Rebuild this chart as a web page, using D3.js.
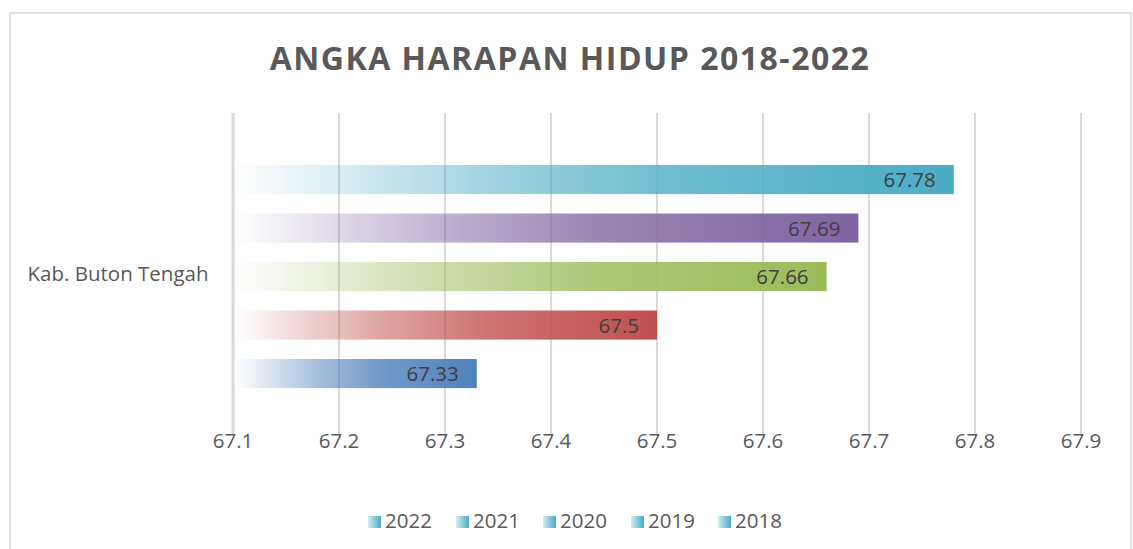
<!DOCTYPE html>
<html>
<head>
<meta charset="utf-8">
<script src="https://cdn.jsdelivr.net/npm/d3@7/dist/d3.min.js"></script>
<style>
html,body{margin:0;padding:0;background:#fff;}
svg text{font-family:"Open Sans","Noto Sans",sans-serif;}
</style>
</head>
<body>
<svg id="chart" width="1133" height="549"></svg>
<script>
const title = "ANGKA HARAPAN HIDUP 2018-2022";
const category = "Kab. Buton Tengah";
const years = ["2022", "2021", "2020", "2019", "2018"];
const values = [67.78, 67.69, 67.66, 67.5, 67.33];
const colors = ["#4BACC6", "#8064A2", "#9BBB59", "#C0504D", "#4F81BD"];
const ticks = [67.1, 67.2, 67.3, 67.4, 67.5, 67.6, 67.7, 67.8, 67.9];

const svg = d3.select("#chart");

// frame
svg.append("rect").attr("x", 10).attr("y", 13).attr("width", 1121).attr("height", 545)
  .attr("fill", "#fff").attr("stroke", "#d9d9d9").attr("stroke-width", 1.5);

// title
svg.append("text").attr("x", 570).attr("y", 70).attr("text-anchor", "middle")
  .attr("font-size", 32).attr("font-weight", "bold").attr("fill", "#595959")
  .attr("letter-spacing", 1.5).text(title);

const x = d3.scaleLinear().domain([67.1, 67.9]).range([233, 1081]);
const y = d3.scaleBand().domain(years).range([155.3, 397.8]).paddingInner(0.4).paddingOuter(0.2);

// gradients
const defs = svg.append("defs");
colors.forEach((c, i) => {
  const g = defs.append("linearGradient").attr("id", "g" + i)
    .attr("x1", "0%").attr("x2", "100%").attr("y1", "0%").attr("y2", "0%");
  [[0, 0], [0.15, 0.22], [0.35, 0.52], [0.6, 0.8], [1, 1]].forEach(([o, a]) => {
    g.append("stop").attr("offset", (o * 100) + "%").attr("stop-color", c).attr("stop-opacity", a);
  });
});

// gridlines
svg.append("g").selectAll("line").data(ticks.slice(1)).join("line")
  .attr("x1", d => x(d)).attr("x2", d => x(d))
  .attr("y1", 113).attr("y2", 434)
  .attr("stroke", "#d9d9d9").attr("stroke-width", 2);

// axis line
svg.append("line").attr("x1", x(67.1)).attr("x2", x(67.1)).attr("y1", 113).attr("y2", 434)
  .attr("stroke", "#d9d9d9").attr("stroke-width", 3);

// bars
svg.append("g").selectAll("rect").data(years).join("rect")
  .attr("x", x(67.1) + 2)
  .attr("y", d => y(d))
  .attr("width", (d, i) => x(values[i]) - x(67.1) - 2)
  .attr("height", y.bandwidth())
  .attr("fill", (d, i) => `url(#g${i})`);

// labels
svg.append("g").selectAll("text").data(years).join("text")
  .attr("x", (d, i) => x(values[i]) - 18)
  .attr("y", d => y(d) + y.bandwidth() / 2 + 7.5)
  .attr("text-anchor", "end")
  .attr("font-size", 20.5).attr("fill", "#404040")
  .text((d, i) => String(values[i]));

// x tick labels
svg.append("g").selectAll("text").data(ticks).join("text")
  .attr("x", d => x(d)).attr("y", 448).attr("text-anchor", "middle")
  .attr("font-size", 20.5).attr("fill", "#595959")
  .text(d => d3.format(".1f")(d));

// category label
svg.append("text").attr("x", 118).attr("y", 281).attr("text-anchor", "middle")
  .attr("font-size", 20.5).attr("fill", "#595959").text(category);

// legend
const lg = defs.append("linearGradient").attr("id", "lg")
  .attr("x1", "0%").attr("x2", "100%");
[[0, "#d6edf3"], [0.5, "#8dcbdb"], [1, "#4BACC6"]].forEach(([o, c]) =>
  lg.append("stop").attr("offset", (o * 100) + "%").attr("stop-color", c));
const legendX = [368, 456, 543, 631, 718];
const leg = svg.append("g").selectAll("g").data(years).join("g")
  .attr("transform", (d, i) => `translate(${legendX[i]},0)`);
leg.append("rect").attr("x", 0).attr("y", 516).attr("width", 13).attr("height", 12).attr("fill", "url(#lg)");
leg.append("text").attr("x", 17).attr("y", 528).attr("font-size", 20.5).attr("fill", "#595959").text(d => d);
</script>
</body>
</html>
